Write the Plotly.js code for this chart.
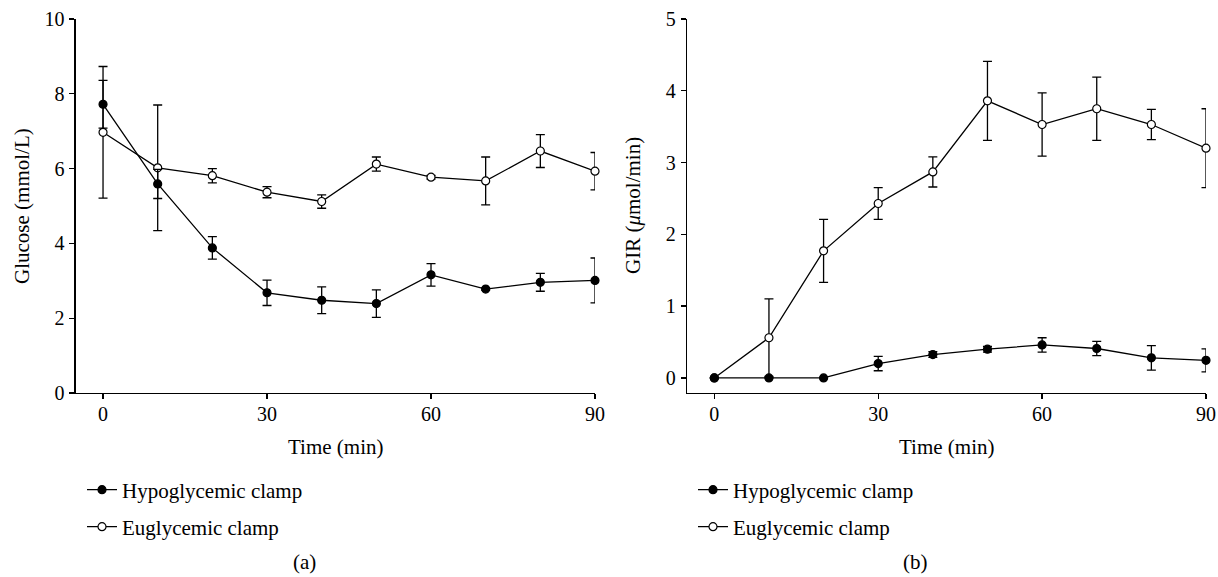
<!DOCTYPE html>
<html>
<head>
<meta charset="utf-8">
<script src="https://cdn.plot.ly/plotly-3.0.1.min.js"></script>
<style>html,body{margin:0;padding:0;background:#fff;}#chart{width:1218px;height:577px;}</style>
</head>
<body>
<div id="chart"></div>
<script>
// ---- data ----
const time = [0, 10, 20, 30, 40, 50, 60, 70, 80, 90];

const glucoseHypo     = [7.72, 5.59, 3.88, 2.68, 2.48, 2.39, 3.16, 2.78, 2.96, 3.01];
const glucoseHypoErr  = [0.64, 0.39, 0.30, 0.34, 0.36, 0.37, 0.30, 0.03, 0.24, 0.60];
const glucoseEugly    = [6.97, 6.02, 5.81, 5.37, 5.12, 6.12, 5.77, 5.67, 6.47, 5.93];
const glucoseEuglyErr = [1.76, 1.68, 0.19, 0.15, 0.18, 0.19, 0.05, 0.64, 0.44, 0.50];

const girHypo     = [0, 0, 0, 0.20, 0.325, 0.40, 0.46, 0.41, 0.28, 0.245];
const girHypoErr  = [0, 0, 0, 0.10, 0.04, 0.04, 0.10, 0.10, 0.17, 0.16];
const girEugly    = [0, 0.56, 1.77, 2.43, 2.87, 3.86, 3.53, 3.75, 3.53, 3.20];
const girEuglyErr = [0, 0.54, 0.44, 0.22, 0.21, 0.55, 0.44, 0.44, 0.21, 0.55];

const seriesNames = ['Hypoglycemic clamp', 'Euglycemic clamp'];
const xTicks = [0, 30, 60, 90];
const glucoseTicks = [0, 2, 4, 6, 8, 10];
const girTicks = [0, 1, 2, 3, 4, 5];

// ---- styling ----
const FONT = 'Liberation Serif, Times New Roman, serif';
const TICK_SIZE = 20;
const TEXT_SIZE = 21;
const lineStyle = {color: '#000', width: 1.3};
function errStyle(arr) {
  return {type: 'data', array: arr, visible: true, color: '#000', thickness: 1.3, width: 4.5};
}
function hypoMarker() { return {symbol: 'circle', size: 8, color: '#000', line: {color: '#000', width: 1.2}}; }
function euglyMarker() { return {symbol: 'circle', size: 8, color: '#fff', line: {color: '#000', width: 1.2}}; }

const traces = [
  {x: time, y: glucoseEugly, error_y: errStyle(glucoseEuglyErr), mode: 'lines+markers', name: seriesNames[1],
   line: lineStyle, marker: euglyMarker(), xaxis: 'x', yaxis: 'y', legend: 'legend2', cliponaxis: false},
  {x: time, y: glucoseHypo, error_y: errStyle(glucoseHypoErr), mode: 'lines+markers', name: seriesNames[0],
   line: lineStyle, marker: hypoMarker(), xaxis: 'x', yaxis: 'y', legend: 'legend', cliponaxis: false},
  {x: time, y: girEugly, error_y: errStyle(girEuglyErr), mode: 'lines+markers', name: seriesNames[1],
   line: lineStyle, marker: euglyMarker(), xaxis: 'x2', yaxis: 'y2', legend: 'legend4', cliponaxis: false},
  {x: time, y: girHypo, error_y: errStyle(girHypoErr), mode: 'lines+markers', name: seriesNames[0],
   line: lineStyle, marker: hypoMarker(), xaxis: 'x2', yaxis: 'y2', legend: 'legend3', cliponaxis: false}
];

const W = 1218, H = 577;
const PANEL_B = 611;
const yDom = [(H - 393) / H, (H - 19) / H];

function xAxis(domain, anchor) {
  return {domain: domain, anchor: anchor, range: [-5, 90], tickvals: xTicks, ticktext: xTicks.map(String),
    showgrid: false, zeroline: false, showline: true, linecolor: '#000', linewidth: 1.3,
    ticks: 'outside', ticklen: 5, tickwidth: 1.3, tickcolor: '#000', ticklabelstandoff: -2,
    tickfont: {family: FONT, size: TICK_SIZE, color: '#000'}, fixedrange: true};
}
function yAxis(range, ticks, anchor) {
  return {domain: yDom, anchor: anchor, range: range, tickvals: ticks, ticktext: ticks.map(String),
    showgrid: false, zeroline: false, showline: true, linecolor: '#000', linewidth: 1.3,
    ticks: 'outside', ticklen: 5, tickwidth: 1.3, tickcolor: '#000', ticklabelstandoff: 1,
    tickfont: {family: FONT, size: TICK_SIZE, color: '#000'}, fixedrange: true};
}
function legendAt(xpx, ypx) {
  return {x: xpx / W, y: (H - ypx) / H, xanchor: 'left', yanchor: 'middle', bgcolor: 'rgba(0,0,0,0)',
    borderwidth: 0, font: {family: FONT, size: TEXT_SIZE, color: '#000'}, itemsizing: 'trace'};
}
function ann(text, xpx, ypx, extra) {
  return Object.assign({text: text, xref: 'paper', yref: 'paper', x: xpx / W, y: (H - ypx) / H,
    xanchor: 'center', yanchor: 'middle', showarrow: false,
    font: {family: FONT, size: TEXT_SIZE, color: '#000'}}, extra || {});
}

const layout = {
  width: W, height: H, margin: {l: 0, r: 0, t: 0, b: 0},
  paper_bgcolor: '#fff', plot_bgcolor: '#fff', showlegend: true,
  xaxis: xAxis([75.7 / W, 595 / W], 'y'),
  yaxis: yAxis([0, 10], glucoseTicks, 'x'),
  xaxis2: xAxis([687 / W, 1206 / W], 'y2'),
  yaxis2: yAxis([-0.21, 5], girTicks, 'x2'),
  legend: legendAt(82, 490),
  legend2: legendAt(82, 527),
  legend3: legendAt(82 + PANEL_B, 490),
  legend4: legendAt(82 + PANEL_B, 527),
  annotations: [
    ann('Time (min)', 335.5, 447),
    ann('Time (min)', 946.5, 447),
    ann('Glucose (mmol/L)', 22, 206, {textangle: -90}),
    ann('GIR (<i>μ</i>mol/min)', 22 + PANEL_B, 206, {textangle: -90}),
    ann('(a)', 304, 562),
    ann('(b)', 304 + PANEL_B, 562)
  ]
};

Plotly.newPlot('chart', traces, layout, {displayModeBar: false, staticPlot: true});
</script>
</body>
</html>
